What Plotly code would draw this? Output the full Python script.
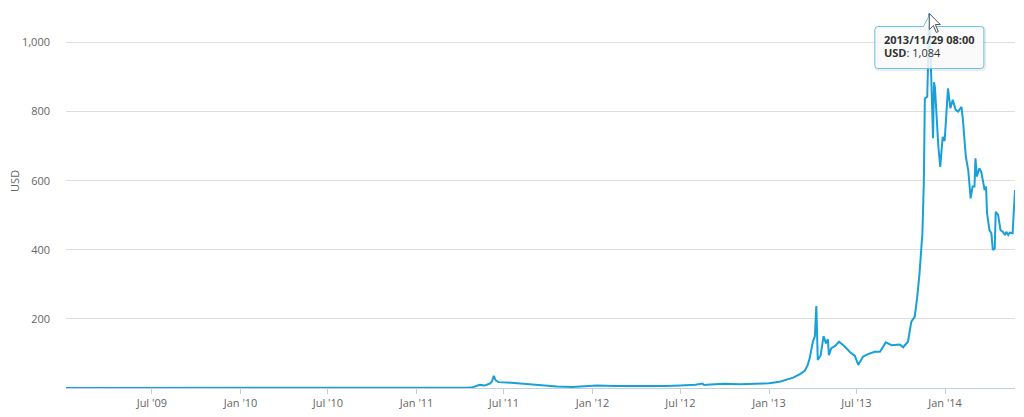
import plotly.graph_objects as go

# ---- data ----
dates = [
    "2009-01-04", "2009-07-01", "2010-01-01", "2010-07-17", "2010-10-01", "2010-11-06",
    "2011-01-01", "2011-02-10", "2011-03-15", "2011-04-15", "2011-04-28", "2011-05-12",
    "2011-05-22", "2011-06-02", "2011-06-06", "2011-06-10", "2011-06-14", "2011-06-20",
    "2011-07-07", "2011-08-04", "2011-08-25", "2011-09-14", "2011-10-19", "2011-11-20",
    "2011-12-21", "2012-01-10", "2012-02-15", "2012-03-20", "2012-05-01", "2012-06-01",
    "2012-07-01", "2012-08-01", "2012-08-16", "2012-08-19", "2012-09-01", "2012-10-01",
    "2012-11-01", "2012-12-01", "2013-01-01", "2013-01-23", "2013-02-20", "2013-03-06",
    "2013-03-16", "2013-03-22", "2013-03-26", "2013-04-02", "2013-04-06", "2013-04-09",
    "2013-04-12", "2013-04-18", "2013-04-24", "2013-04-29", "2013-05-03", "2013-05-05",
    "2013-05-10", "2013-05-18", "2013-05-26", "2013-06-07", "2013-06-17", "2013-06-28",
    "2013-07-05", "2013-07-15", "2013-07-25", "2013-08-08", "2013-08-19", "2013-08-31",
    "2013-09-12", "2013-09-29", "2013-10-06", "2013-10-16", "2013-10-23", "2013-10-30",
    "2013-11-04", "2013-11-09", "2013-11-15", "2013-11-18", "2013-11-20", "2013-11-25",
    "2013-11-27", "2013-11-29 08:00", "2013-12-02", "2013-12-04", "2013-12-07", "2013-12-09",
    "2013-12-11", "2013-12-18", "2013-12-22", "2013-12-27", "2013-12-31", "2014-01-02",
    "2014-01-07", "2014-01-12", "2014-01-17", "2014-01-23", "2014-01-28", "2014-02-04",
    "2014-02-07", "2014-02-13", "2014-02-18", "2014-02-23", "2014-02-27", "2014-03-03",
    "2014-03-05", "2014-03-08", "2014-03-13", "2014-03-17", "2014-03-24", "2014-03-27",
    "2014-03-29", "2014-04-03", "2014-04-07", "2014-04-10", "2014-04-14", "2014-04-16",
    "2014-04-21", "2014-04-26", "2014-05-01", "2014-05-05", "2014-05-08", "2014-05-12",
    "2014-05-15", "2014-05-21", "2014-05-26",
]
usd = [
    0, 0, 0, 0.05, 0.06, 0.35,
    0.3, 1.0, 0.9, 1.0, 2.5, 9,
    7, 13, 18, 35, 22, 17,
    16, 13, 10, 7, 4, 3,
    4.5, 7, 5.5, 5, 5, 5.5,
    7, 9.5, 13, 9, 10, 12,
    11, 12.5, 13.5, 18, 30, 40,
    50, 66, 85, 135, 150, 237,
    81, 95, 150, 129, 141, 95,
    115, 122, 134, 120, 105, 93,
    67, 91, 98, 105, 105, 132,
    124, 126, 118, 134, 192, 206,
    260, 332, 448, 600, 838, 843,
    950, 1084, 960, 880, 723, 885,
    870, 700, 640, 727, 715, 756,
    867, 810, 834, 805, 800, 814,
    776, 670, 631, 549, 583, 583,
    665, 612, 636, 626, 573, 583,
    506, 457, 448, 400, 404, 510,
    501, 457, 452, 443, 452, 443,
    450, 448, 573,
]

x_tick_dates = ["2009-07-01", "2010-01-01", "2010-07-01", "2011-01-01", "2011-07-01",
                "2012-01-01", "2012-07-01", "2013-01-01", "2013-07-01", "2014-01-01"]
x_tick_labels = ["Jul '09", "Jan '10", "Jul '10", "Jan '11", "Jul '11",
                 "Jan '12", "Jul '12", "Jan '13", "Jul '13", "Jan '14"]
y_tick_values = [200, 400, 600, 800, 1000]
y_tick_labels = ["200", "400", "600", "800", "1,000"]

tooltip_date_label = "2013/11/29 08:00"
series_name = "USD"

# ---- styles ----
LINE = "#1aa0d8"
FONT = "Open Sans"
GREY = "#666666"

fig = go.Figure()
fig.add_trace(go.Scatter(
    x=dates, y=usd, mode="lines",
    line=dict(color=LINE, width=2),
    name=series_name, hoverinfo="skip", cliponaxis=False,
))

peak_i = max(range(len(usd)), key=lambda i: usd[i])
peak_x, peak_y = dates[peak_i], usd[peak_i]

# tooltip callout (pixel-sized shapes anchored at the peak point)
box = ("M -51.5,-13 L -6,-13 L 0,-2 L 6,-13 L 51.5,-13 Q 54.5,-13 54.5,-16 "
       "L 54.5,-52 Q 54.5,-55 51.5,-55 L -51.5,-55 Q -54.5,-55 -54.5,-52 "
       "L -54.5,-16 Q -54.5,-13 -51.5,-13 Z")
shadow = ("M -50.5,-14 L 52.5,-14 Q 55.5,-14 55.5,-17 L 55.5,-53 Q 55.5,-56 52.5,-56 "
          "L -50.5,-56 Q -53.5,-56 -53.5,-53 L -53.5,-17 Z")
cursor = "M 0,0 L 0,-16 L 4,-12 L 7,-19 L 9,-18 L 6,-11 L 11,-11 Z"

shapes = [
    dict(type="path", xref="x", yref="y", xsizemode="pixel", ysizemode="pixel",
         xanchor=peak_x, yanchor=peak_y, path=shadow,
         line=dict(color="rgba(0,0,0,0.07)", width=3), fillcolor="rgba(0,0,0,0)"),
    dict(type="path", xref="x", yref="y", xsizemode="pixel", ysizemode="pixel",
         xanchor=peak_x, yanchor=peak_y, path=box,
         line=dict(color="#6ec0e6", width=1), fillcolor="rgba(249,249,249,0.85)"),
    dict(type="path", xref="x", yref="y", xsizemode="pixel", ysizemode="pixel",
         xanchor=peak_x, yanchor=peak_y, path=cursor,
         line=dict(color="#555555", width=1), fillcolor="white"),
]

annotations = [
    dict(xref="x", yref="y", x=peak_x, y=peak_y, xanchor="left", yanchor="middle",
         xshift=-47.5, yshift=-26, showarrow=False,
         text="<b>" + tooltip_date_label + "</b>",
         font=dict(family=FONT, size=11, color="#333333")),
    dict(xref="x", yref="y", x=peak_x, y=peak_y, xanchor="left", yanchor="middle",
         xshift=-47.5, yshift=-38.5, showarrow=False,
         text="<b>" + series_name + "</b>: " + f"{peak_y:,}",
         font=dict(family=FONT, size=11, color="#333333")),
    dict(xref="paper", yref="paper", x=0, y=0.545, xshift=-51, xanchor="center",
         yanchor="middle", showarrow=False, text=series_name, textangle=-90,
         borderpad=0, font=dict(family=FONT, size=11, color=GREY)),
]

# the page body has an 8px default margin, so the figure is sized/offset to fit
fig.update_layout(
    width=1008, height=401,
    margin=dict(l=58, r=1, t=0, b=21, pad=0),
    paper_bgcolor="white", plot_bgcolor="white",
    showlegend=False,
    font=dict(family=FONT, size=11, color=GREY),
    shapes=shapes, annotations=annotations,
    xaxis=dict(
        type="date", range=[dates[0], dates[-1]],
        tickmode="array", tickvals=x_tick_dates, ticktext=x_tick_labels,
        ticks="outside", ticklen=5, tickcolor="#C0D0E0", tickwidth=1,
        showline=True, linecolor="#C0D0E0", linewidth=1,
        showgrid=False, zeroline=False,
        tickfont=dict(family=FONT, size=11, color=GREY),
    ),
    yaxis=dict(
        range=[0, 1100], tickmode="array", tickvals=y_tick_values, ticktext=y_tick_labels,
        showgrid=True, gridcolor="#DEDEDE", gridwidth=1,
        zeroline=False, showline=False, ticks="",
        ticklabelstandoff=15,
        tickfont=dict(family=FONT, size=11, color=GREY),
    ),
)

fig.write_html("out.html")
